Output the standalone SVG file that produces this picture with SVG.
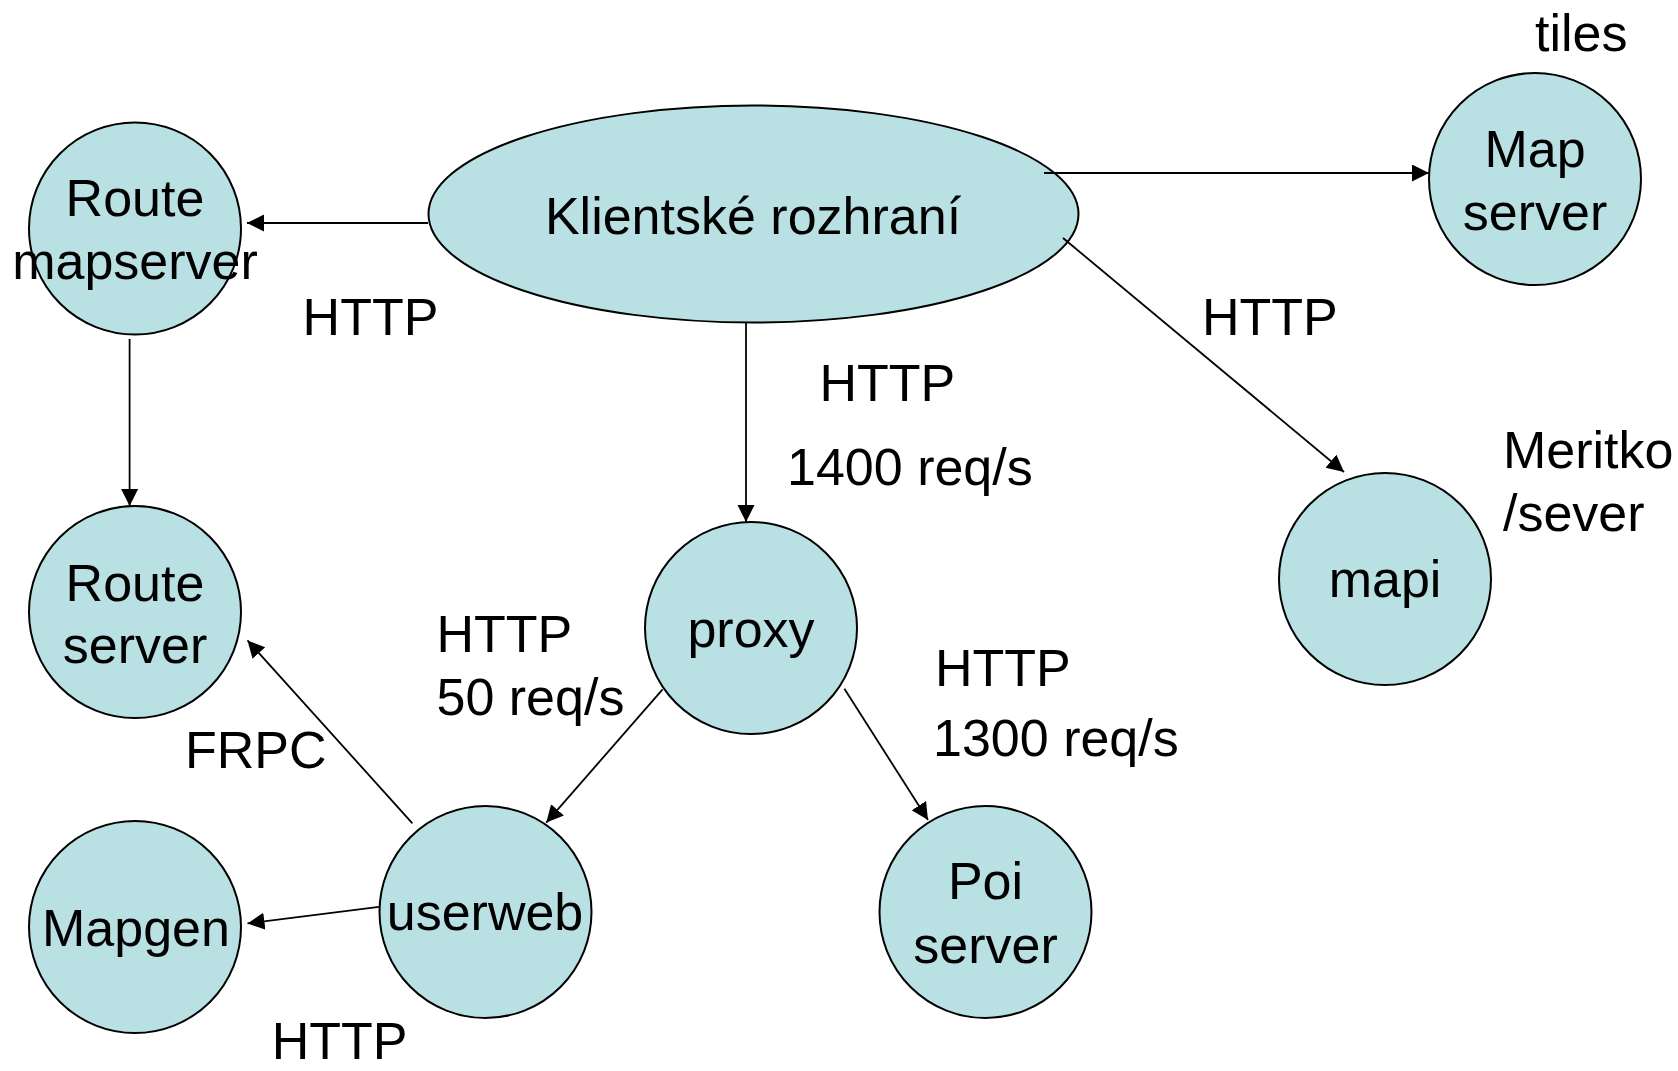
<svg xmlns="http://www.w3.org/2000/svg" width="1678" height="1071" viewBox="0 0 1678 1071">
<style>
.node{fill:#B9E0E3;stroke:#000;stroke-width:2}
.t{font-family:"Liberation Sans",Arial,sans-serif;font-size:52px;fill:#000}
.c{text-anchor:middle}
.edge{stroke:#000;stroke-width:1.8;fill:none;marker-end:url(#arr)}
</style>
<defs>
<marker id="arr" markerUnits="userSpaceOnUse" markerWidth="18" markerHeight="18" refX="17" refY="8.5" orient="auto">
<path d="M0,0 L17,8.5 L0,17 z" fill="#000"/>
</marker>
</defs>
<rect width="1678" height="1071" fill="#fff"/>
<g id="klient"><ellipse class="node" cx="753.5" cy="214" rx="325" ry="108.5"/><text class="t c" x="753" y="234">Klientské rozhraní</text></g>
<g id="routemapserver"><circle class="node" cx="135" cy="228.5" r="106"/><text class="t c" x="135" y="216">Route</text><text class="t c" x="135" y="279">mapserver</text></g>
<g id="mapserver"><circle class="node" cx="1535" cy="179" r="106"/><text class="t c" x="1535" y="167">Map</text><text class="t c" x="1535" y="230">server</text></g>
<g id="routeserver"><circle class="node" cx="135" cy="612" r="106"/><text class="t c" x="135" y="601">Route</text><text class="t c" x="135" y="663">server</text></g>
<g id="proxy"><circle class="node" cx="751" cy="628" r="106"/><text class="t c" x="751" y="647">proxy</text></g>
<g id="mapi"><circle class="node" cx="1385" cy="579" r="106"/><text class="t c" x="1385" y="597">mapi</text></g>
<g id="userweb"><circle class="node" cx="485.5" cy="912" r="106"/><text class="t c" x="485" y="930">userweb</text></g>
<g id="mapgen"><circle class="node" cx="135" cy="927" r="106"/><text class="t c" x="136" y="946">Mapgen</text></g>
<g id="poiserver"><circle class="node" cx="985.5" cy="912" r="106"/><text class="t c" x="985.5" y="899">Poi</text><text class="t c" x="985.5" y="963">server</text></g>
<g id="connectors">
<line class="edge" x1="428" y1="223" x2="247" y2="223"/>
<line class="edge" x1="129.6" y1="339" x2="129.6" y2="506"/>
<line class="edge" x1="746" y1="323" x2="746" y2="522"/>
<line class="edge" x1="1044" y1="173" x2="1429" y2="173"/>
<line class="edge" x1="1063" y1="238" x2="1344" y2="472"/>
<line class="edge" x1="662.6" y1="689.4" x2="546.3" y2="822.6"/>
<line class="edge" x1="844.4" y1="688.7" x2="928" y2="820"/>
<line class="edge" x1="412.4" y1="823.3" x2="247.5" y2="640.4"/>
<line class="edge" x1="379" y1="906.8" x2="247.5" y2="923.4"/>
</g>
<g id="labels">
<text class="t" x="1535" y="51">tiles</text>
<text class="t" x="302.6" y="335">HTTP</text>
<text class="t" x="1202" y="335">HTTP</text>
<text class="t" x="819.5" y="401">HTTP</text>
<text class="t" x="787" y="485">1400 req/s</text>
<text class="t" x="1503" y="468">Meritko</text>
<text class="t" x="1503" y="531">/sever</text>
<text class="t" x="436.5" y="652">HTTP</text>
<text class="t" x="436.5" y="715">50 req/s</text>
<text class="t" x="185" y="768">FRPC</text>
<text class="t" x="935" y="686">HTTP</text>
<text class="t" x="933" y="756">1300 req/s</text>
<text class="t" x="271.7" y="1059">HTTP</text>
</g>
</svg>
